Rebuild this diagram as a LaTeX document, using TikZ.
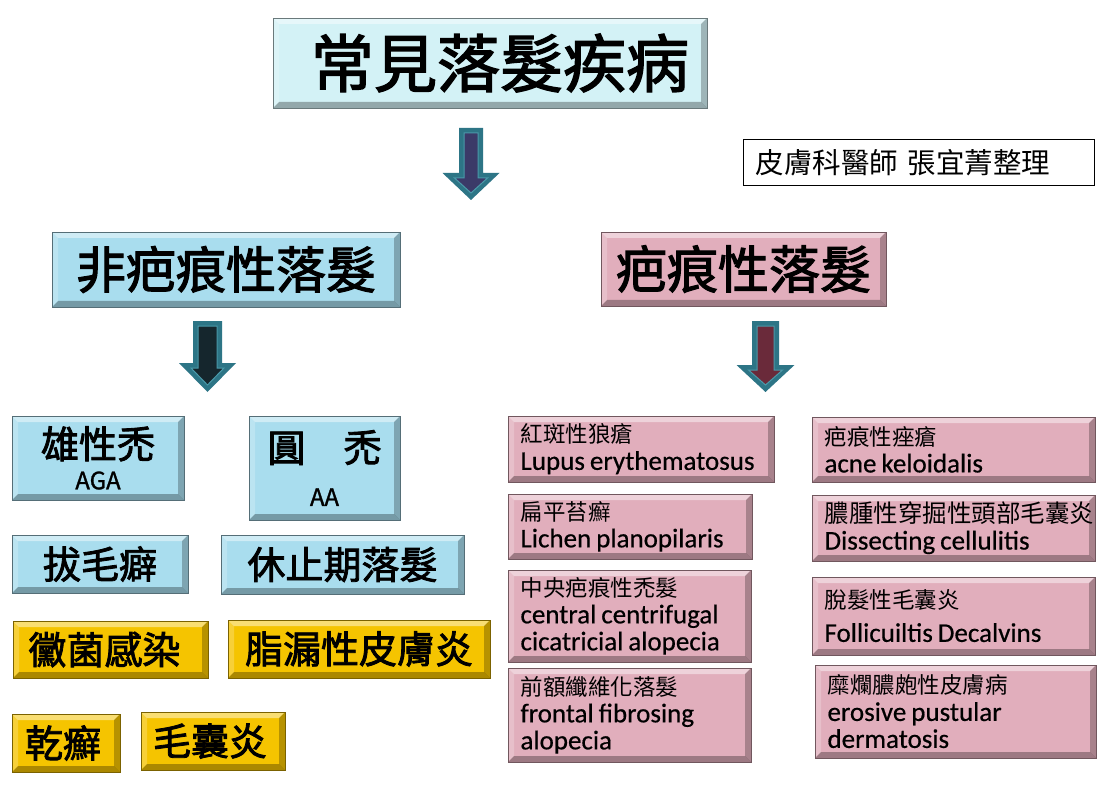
\documentclass[tikz,border=0pt]{standalone}
\usepackage{fontspec}
\setmainfont{Carlito}[FakeBold=0.5]
\newfontfamily\cjk{Noto Sans CJK TC}
\newfontfamily\cjkh{Noto Sans CJK TC}[FakeBold=2.2]
\newfontfamily\cjkm{Noto Sans CJK TC}[FakeBold=1.2]
\definecolor{titlecyan}{HTML}{D3F2F6}
\definecolor{boxblue}{HTML}{A9DDEE}
\definecolor{boxpink}{HTML}{E1AEBC}
\definecolor{boxgold}{HTML}{F5C400}
\definecolor{arrowteal}{HTML}{2D7586}
\definecolor{arrowedge}{HTML}{4A9AAA}
\definecolor{innernavy}{HTML}{3B3A68}
\definecolor{innerdark}{HTML}{15262D}
\definecolor{innermaroon}{HTML}{6A2A3A}
\newcommand{\blockarrow}[7]{%
  \fill[arrowteal] ({#1-#5},#2) -- ({#1+#5},#2) -- ({#1+#5},#3) -- ({#1+#6},#3) -- (#1,#4) -- ({#1-#6},#3) -- ({#1-#5},#3) -- cycle;
  \fill[#7, draw=arrowedge, line width=1pt] ({#1-#5+5},{#2+5}) -- ({#1+#5-5},{#2+5}) -- ({#1+#5-5},{#3+5}) -- ({#1+#6-12},{#3+5}) -- (#1,{#4-7}) -- ({#1-#6+12},{#3+5}) -- ({#1-#5+5},{#3+5}) -- cycle;
}
\tikzset{
  bevel/.style={path picture={
    \coordinate (pNW) at (path picture bounding box.north west);
    \coordinate (pNE) at (path picture bounding box.north east);
    \coordinate (pSW) at (path picture bounding box.south west);
    \coordinate (pSE) at (path picture bounding box.south east);
    \fill[white,opacity=.45] (pNW) -- (pNE) -- ([shift={(-6pt,-6pt)}]pNE) -- ([shift={(6pt,-6pt)}]pNW) -- cycle;
    \fill[white,opacity=.22] (pNW) -- ([shift={(6pt,-6pt)}]pNW) -- ([shift={(6pt,6pt)}]pSW) -- (pSW) -- cycle;
    \fill[black,opacity=.30] (pSW) -- (pSE) -- ([shift={(-6pt,6pt)}]pSE) -- ([shift={(6pt,6pt)}]pSW) -- cycle;
    \fill[black,opacity=.25] (pNE) -- (pSE) -- ([shift={(-6pt,6pt)}]pSE) -- ([shift={(-6pt,-6pt)}]pNE) -- cycle;
  }},
  bbox/.style={rectangle, fill=#1, draw=#1!50!black, line width=0.8pt, inner sep=0pt, bevel, align=center},
  pbox/.style={bbox=boxpink, align=left, inner xsep=12.5pt, inner ysep=0pt, font=\fontsize{27}{27}\selectfont},
  hdfont/.style={font=\cjkh\fontsize{#1}{#1}\selectfont},
}
\newcommand{\cj}[1]{{\cjk\fontsize{22.5}{27}\selectfont #1}}
\newcommand{\en}[1]{\mbox{\spaceskip=5pt\relax #1}}
\begin{document}
\begin{tikzpicture}[x=1pt,y=-1pt]
\useasboundingbox (0,0) rectangle (1100,786);
\fill[white] (0,0) rectangle (1100,786);

% headings
\node[bbox=titlecyan, hdfont=63, minimum width=434pt, minimum height=90pt] (title) at (490,63) {\hspace*{20pt}常見落髮疾病};
\node[rectangle, draw=black, fill=white, line width=1pt, minimum width=351pt, minimum height=46pt, text width=326pt, inner xsep=12.5pt, align=left, font=\cjk\fontsize{28.5}{28.5}\selectfont] (sig) at (918.5,163) {皮膚科醫師 張宜菁整理};
\node[bbox=boxblue, hdfont=50, minimum width=348pt, minimum height=75pt] (nonscar) at (226,269.5) {非疤痕性落髮};
\node[bbox=boxpink, hdfont=51, minimum width=285pt, minimum height=74pt] (scar) at (743.5,269) {疤痕性落髮};

% arrows
\blockarrow{471}{128}{173}{200}{12}{28.5}{innernavy}
\blockarrow{207.5}{321}{363}{392}{14.5}{28.5}{innerdark}
\blockarrow{765.5}{321}{365}{392}{13.5}{29}{innermaroon}

% non-scarring
\node[bbox=boxblue, minimum width=172pt, minimum height=84pt, font=\cjkm\fontsize{24}{31}\selectfont] (aga) at (98,458) {{\cjkh\fontsize{38}{31}\selectfont 雄性禿}\\AGA\hspace*{2pt}\hspace*{-2pt}};
\node[bbox=boxblue, minimum width=151pt, minimum height=104pt, font=\cjkm\fontsize{24}{31}\selectfont] (aa) at (324.5,468) {{\cjkh\fontsize{38}{31}\selectfont 圓　禿}\\[13pt]AA};
\node[bbox=boxblue, hdfont=38, minimum width=176pt, minimum height=58pt] (tti) at (100,564) {拔毛癖};
\node[bbox=boxblue, hdfont=38, minimum width=243pt, minimum height=59pt] (te) at (342.5,564.5) {休止期落髮};
\node[bbox=boxgold, hdfont=38, minimum width=195pt, minimum height=57pt] (tinea) at (110.5,649.5) {黴菌感染\hspace*{12pt}};
\node[bbox=boxgold, hdfont=38, minimum width=262pt, minimum height=58pt] (sebd) at (359,649) {脂漏性皮膚炎};
\node[bbox=boxgold, hdfont=38, minimum width=108pt, minimum height=58pt] (psor) at (66,743) {乾癬\hspace*{6pt}};
\node[bbox=boxgold, hdfont=38, minimum width=144pt, minimum height=58pt] (folli) at (213,741) {毛囊炎\hspace*{6pt}};

% scarring
\node[pbox, text width=241pt, minimum height=66pt] (lupus) at (641,449) {\cj{紅斑性狼瘡}\\\en{Lupus erythematosus}};
\node[pbox, text width=219pt, minimum height=65pt] (lpp) at (630,526.5) {\cj{扁平苔癬}\\\en{Lichen planopilaris}};
\node[pbox, text width=218pt, minimum height=92pt] (ccca) at (629.5,616) {\cj{中央疤痕性禿髮}\\\en{central centrifugal}\\\en{cicatricial alopecia}};
\node[pbox, text width=218pt, minimum height=94pt] (ffa) at (629.5,715) {\cj{前額纖維化落髮}\\\en{frontal fibrosing}\\\en{alopecia}};
\node[pbox, text width=258pt, minimum height=65pt] (acnek) at (953.5,449.5) {\cj{疤痕性痤瘡}\\\en{acne keloidalis}};
\node[pbox, text width=258pt, minimum height=66pt] (dcs) at (953.5,528) {{\cjk\fontsize{24.5}{27}\selectfont 膿腫性穿掘性頭部毛囊炎}\\\en{Dissecting cellulitis}};
\node[pbox, text width=258pt, minimum height=78pt] (fd) at (953.5,616) {\cj{脫髮性毛囊炎}\\[6pt]\en{Follicuiltis Decalvins}};
\node[pbox, text width=256pt, minimum height=93pt] (epd) at (955.5,711.5) {\cj{糜爛膿皰性皮膚病}\\\en{erosive pustular}\\\en{dermatosis}};
\end{tikzpicture}
\end{document}
